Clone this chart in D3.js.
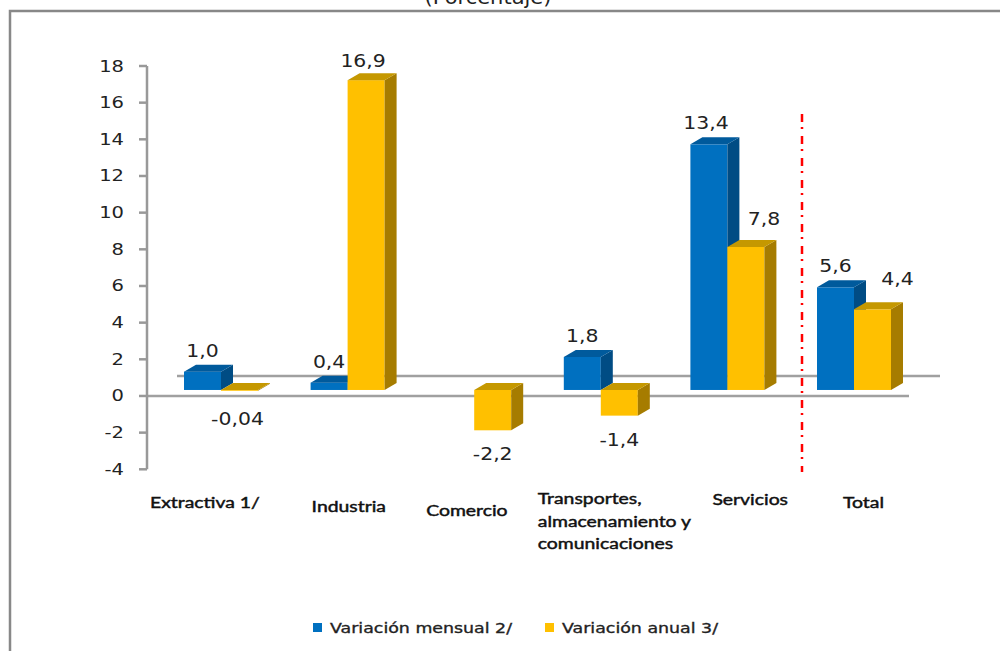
<!DOCTYPE html>
<html><head><meta charset="utf-8">
<script src="https://cdn.jsdelivr.net/npm/d3@7"></script>
<style>body{margin:0;background:#fff}svg{display:block}</style>
</head><body>
<svg id="c" width="1000" height="651"></svg>
<script>
const categories = ["Extractiva 1/", "Industria", "Comercio", "Transportes,|almacenamiento y|comunicaciones", "Servicios", "Total"];
const mensual = [1.0, 0.4, null, 1.8, 13.4, 5.6];
const anual = [-0.04, 16.9, -2.2, -1.4, 7.8, 4.4];
const seriesNames = ["Variación mensual 2/", "Variación anual 3/"];
const yTicks = [-4, -2, 0, 2, 4, 6, 8, 10, 12, 14, 16, 18];
const titleText = "(Porcentaje)";

const svg = d3.select("#c");
const colors = [
  {front:"#0070C0", side:"#004C84", top:"#005A9C"},
  {front:"#FFC000", side:"#A67C00", top:"#C59800"}
];
const DX = 12, DY = -7;      // bar depth
const MID = -6;              // mid-depth vertical shift of bar base
const y = d3.scaleLinear().domain([-4, 18]).range([469.3, 66]);
const x0 = d3.scaleBand().domain(d3.range(categories.length)).range([157.7, 917.3]);
const pairW = 74;
const x1 = d3.scaleBand().domain([0, 1]).range([0, pairW]);
const yb = v => y(v) + MID;

// frame
svg.append("rect").attr("x", 10).attr("y", 11).attr("width", 1010).attr("height", 660)
  .attr("fill", "none").attr("stroke", "#888").attr("stroke-width", 2.5);

function stext(g, x, yy, txt, sx, anchor) {
  return g.append("text").attr("transform", `translate(${x},${yy}) scale(${sx},1)`)
    .attr("text-anchor", anchor || "middle").text(txt);
}

// title (cut off at top, as in the reference)
const tg = svg.append("g").attr("font-family", "DejaVu Sans").attr("font-size", 20).attr("fill", "#222");
stext(tg, 488, 4, titleText, 1.05);

// floor lines
svg.append("line").attr("x1", 177).attr("x2", 940).attr("y1", y(0) - 20).attr("y2", y(0) - 20)
  .attr("stroke", "#a0a0a0").attr("stroke-width", 2.5);
svg.append("line").attr("x1", 147).attr("x2", 909).attr("y1", y(0)).attr("y2", y(0))
  .attr("stroke", "#a0a0a0").attr("stroke-width", 2.5);

// y axis
const ax = svg.append("g");
ax.append("line").attr("x1", 147).attr("x2", 147).attr("y1", y(18)).attr("y2", y(-4))
  .attr("stroke", "#999").attr("stroke-width", 2.5);
ax.selectAll("line.t").data(yTicks).join("line").attr("class", "t")
  .attr("x1", 139).attr("x2", 147).attr("y1", d => y(d)).attr("y2", d => y(d))
  .attr("stroke", "#999").attr("stroke-width", 2.5);
const tl = ax.append("g").attr("font-family", "DejaVu Sans").attr("font-size", 15).attr("fill", "#222");
yTicks.forEach(t => stext(tl, 124, y(t) + 5.5, String(t), 1.3, "end"));

// red separator
svg.append("line").attr("x1", 802).attr("x2", 802).attr("y1", 114).attr("y2", 472)
  .attr("stroke", "#ff0000").attr("stroke-width", 2.5).attr("stroke-dasharray", "8,5,2,7");

// bars
const series = [mensual, anual];
const barsG = svg.append("g");
categories.forEach((c, i) => {
  series.forEach((vals, s) => {
    const v = vals[i];
    if (v === null || v === undefined) return;
    const bx = x0(i) + x0.bandwidth() / 2 - pairW / 2 + x1(s);
    const w = x1.bandwidth();
    const yt = Math.min(yb(v), yb(0));
    const ybot = Math.max(yb(v), yb(0));
    const col = colors[s];
    const g = barsG.append("g");
    g.append("rect").attr("x", bx).attr("y", yt).attr("width", w).attr("height", Math.max(ybot - yt, 0.8))
      .attr("fill", col.front);
    g.append("polygon").attr("points", [[bx + w, yt], [bx + w + DX, yt + DY], [bx + w + DX, ybot + DY], [bx + w, ybot]].join(" "))
      .attr("fill", col.side);
    g.append("polygon").attr("points", [[bx, yt], [bx + DX, yt + DY], [bx + w + DX, yt + DY], [bx + w, yt]].join(" "))
      .attr("fill", col.top);
  });
});

// data labels
const fmt = v => (Math.abs(v) < 0.1 ? v.toFixed(2) : v.toFixed(1)).replace(".", ",");
const labelNudge = [
  [[0, 0], [0, 0], [0, 0], [0, 0], [-3, 0], [0, 0]],
  [[-2, 4], [-3, 2], [0, 0], [0, 0], [18, -7], [25, -9]]
];
const lg = svg.append("g").attr("font-family", "DejaVu Sans").attr("font-size", 17).attr("fill", "#222");
categories.forEach((c, i) => {
  series.forEach((vals, s) => {
    const v = vals[i];
    if (v === null || v === undefined) return;
    const bx = x0(i) + x0.bandwidth() / 2 - pairW / 2 + x1(s);
    const cx = bx + x1.bandwidth() / 2 + labelNudge[s][i][0];
    const ly = v >= 0 ? yb(v) + DY - 8 : yb(v) + 30;
    stext(lg, cx, ly + labelNudge[s][i][1], fmt(v), 1.2);
  });
});

// category labels
const catPos = [[-71, 508], [-36, 512], [-48, 516], [-63, 504], [-15, 505], [-11, 508]];
const cg = svg.append("g").attr("font-family", "Lato").attr("font-size", 15.5).attr("fill", "#111")
  .attr("stroke", "#111").attr("stroke-width", 0.45);
categories.forEach((c, i) => {
  const xc = x0(i) + x0.bandwidth() / 2;
  c.split("|").forEach((line, k) => {
    stext(cg, xc + catPos[i][0], catPos[i][1] + k * 22.5, line, 1.25, "start");
  });
});

// legend
const leg = svg.append("g").attr("font-family", "DejaVu Sans").attr("font-size", 14.5).attr("fill", "#222")
  .attr("stroke", "#222").attr("stroke-width", 0.35);
const legX = [313, 545];
seriesNames.forEach((n, s) => {
  leg.append("rect").attr("x", legX[s]).attr("y", 623).attr("width", 9).attr("height", 9)
    .attr("fill", colors[s].front).attr("stroke", "none");
  stext(leg, legX[s] + 17, 633, n, 1.2, "start");
});
</script>
</body></html>
